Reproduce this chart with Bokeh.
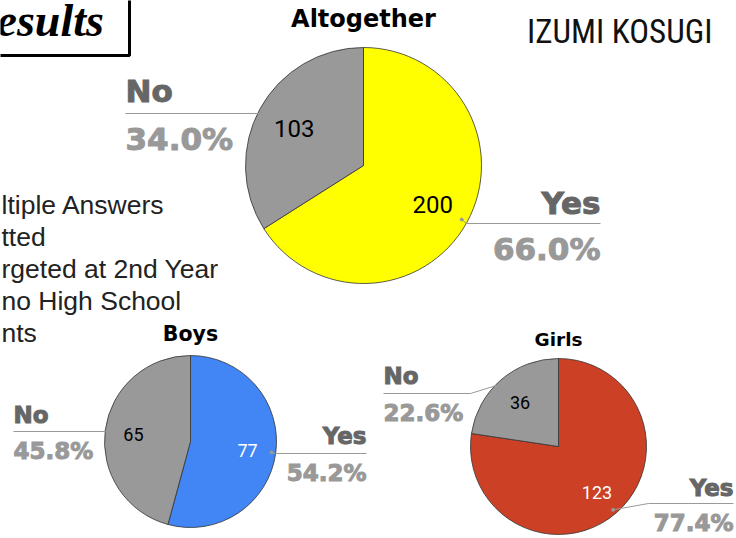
import math
from bokeh.plotting import figure
from bokeh.models import Range1d, ColumnDataSource
from bokeh.core.properties import value
from bokeh.embed import file_html
from bokeh.resources import INLINE

# ---------------- data ----------------
categories = ["Yes", "No"]
altogether_counts = [200, 103]
boys_counts = [77, 65]
girls_counts = [123, 36]
chart_titles = ["Altogether", "Boys", "Girls"]

altogether_colors = ["#FFFF00", "#999999"]
boys_colors = ["#4285F4", "#999999"]
girls_colors = ["#CC4125", "#999999"]

note_lines = ["ltiple Answers", "tted", "rgeted at 2nd Year", "no High School", "nts"]
header_text = "esults"
author_text = "IZUMI KOSUGI"

LABEL_FONT = "DejaVu Sans"
TITLE_FONT = "DejaVu Sans"
NUM_FONT = "Roboto"

W, H = 736, 538

p = figure(width=W, height=H, x_range=Range1d(0, W), y_range=Range1d(-H, 0),
           output_backend="svg", toolbar_location=None, min_border=0,
           x_axis_type=None, y_axis_type=None)
p.grid.visible = False
p.outline_line_color = None
p.background_fill_color = "white"
p.border_fill_color = "white"


def Y(sy):
    return -sy


def TY(baseline, size):
    # anchor for a text whose baseline should sit at picture row `baseline`
    return -(baseline - 0.32 * size)


def pie(counts, colors, cx, cy, r, title, title_y, title_size, num_size, num_colors,
        lab):
    total = float(sum(counts))
    fracs = [c / total for c in counts]
    starts, ends, mids = [], [], []
    acc = 0.0
    for f in fracs:
        starts.append(math.pi / 2 - 2 * math.pi * acc)
        mids.append(2 * math.pi * (acc + f / 2))
        acc += f
        ends.append(math.pi / 2 - 2 * math.pi * acc)
    src = ColumnDataSource(dict(start=starts, end=ends, color=colors, cat=categories))
    p.wedge(x=cx, y=Y(cy), radius=r, start_angle="start", end_angle="end",
            direction="clock", fill_color="color", line_color="#333333",
            line_width=0.8, source=src)
    rr = 0.67 * r
    nx = [cx + rr * math.sin(m) for m in mids]
    ny = [Y(cy - rr * math.cos(m) + 1) for m in mids]
    p.text(x=nx, y=ny, text=[str(c) for c in counts], text_font=value(NUM_FONT),
           text_font_size=value(f"{num_size}px"), text_color=num_colors,
           text_align="center", text_baseline="alphabetic")
    p.text(x=[cx], y=[TY(title_y, title_size)], text=[title], text_font=value(TITLE_FONT),
           text_font_style="bold", text_font_size=value(f"{title_size}px"),
           text_color="black", text_align="center", text_baseline="alphabetic")
    rl = 0.95 * r
    for i, cat in enumerate(categories):
        L = lab[cat]
        sx = cx + rl * math.sin(mids[i])
        sy = cy - rl * math.cos(mids[i])
        p.line(x=[sx, L["elbow"], L["end"]], y=[Y(sy), Y(L["line"]), Y(L["line"])],
               line_color="#999999", line_width=1)
        p.scatter(x=[sx], y=[Y(sy)], size=3, color="#999999")
        pct = f"{100 * fracs[i]:.1f}%"
        for txt, yy, col in ((cat, L["word"], "#666666"), (pct, L["pct"], "#999999")):
            p.text(x=[L["end"]], y=[TY(yy, L["size"])], text=[txt],
                   text_font=value(LABEL_FONT), text_font_style="bold",
                   text_font_size=value(f"{L['size']}px"),
                   text_color=col, text_outline_color=col,
                   text_align=L["align"], text_baseline="alphabetic")


pie(altogether_counts, altogether_colors, 363, 165, 118, chart_titles[0], 26, 24, 24,
    ["black", "black"],
    {"Yes": dict(elbow=466, end=600, line=223, word=212, pct=258, size=31, align="right"),
     "No": dict(elbow=260, end=125, line=113, word=100, pct=148, size=31, align="left")})

pie(boys_counts, boys_colors, 190, 441, 86, chart_titles[1], 340, 20.5, 18,
    ["white", "black"],
    {"Yes": dict(elbow=275, end=366, line=453, word=443, pct=480, size=23, align="right"),
     "No": dict(elbow=105, end=13, line=431, word=422, pct=458, size=23, align="left")})

pie(girls_counts, girls_colors, 558, 446, 88, chart_titles[2], 345, 18.5, 18,
    ["white", "black"],
    {"Yes": dict(elbow=648, end=733, line=503, word=495, pct=530, size=23, align="right"),
     "No": dict(elbow=470, end=383, line=393, word=383, pct=420, size=23, align="left")})

# header box
p.quad(left=[-10], right=[129], top=[Y(-10)], bottom=[Y(55)], fill_color="white",
       line_color="black", line_width=3)
p.text(x=[-4], y=[TY(35, 46)], text=[header_text], text_font=value("Liberation Serif"),
       text_font_style="bold italic", text_font_size=value("46px"), text_color="black",
       text_align="left", text_baseline="alphabetic")

# author
p.text(x=[712], y=[TY(42, 33)], text=[author_text], text_font=value("Roboto Condensed"),
       text_font_size=value("33px"), text_color="#111111", text_align="right",
       text_baseline="alphabetic")

# notes
note_y = [213, 245, 277, 309, 341]
p.text(x=[1] * len(note_lines), y=[TY(v, 26.5) for v in note_y], text=note_lines,
       text_font=value("Liberation Sans"), text_font_size=value("26.5px"),
       text_color="#222222", text_align="left", text_baseline="alphabetic")

open("out.html", "w").write(file_html(p, INLINE))
